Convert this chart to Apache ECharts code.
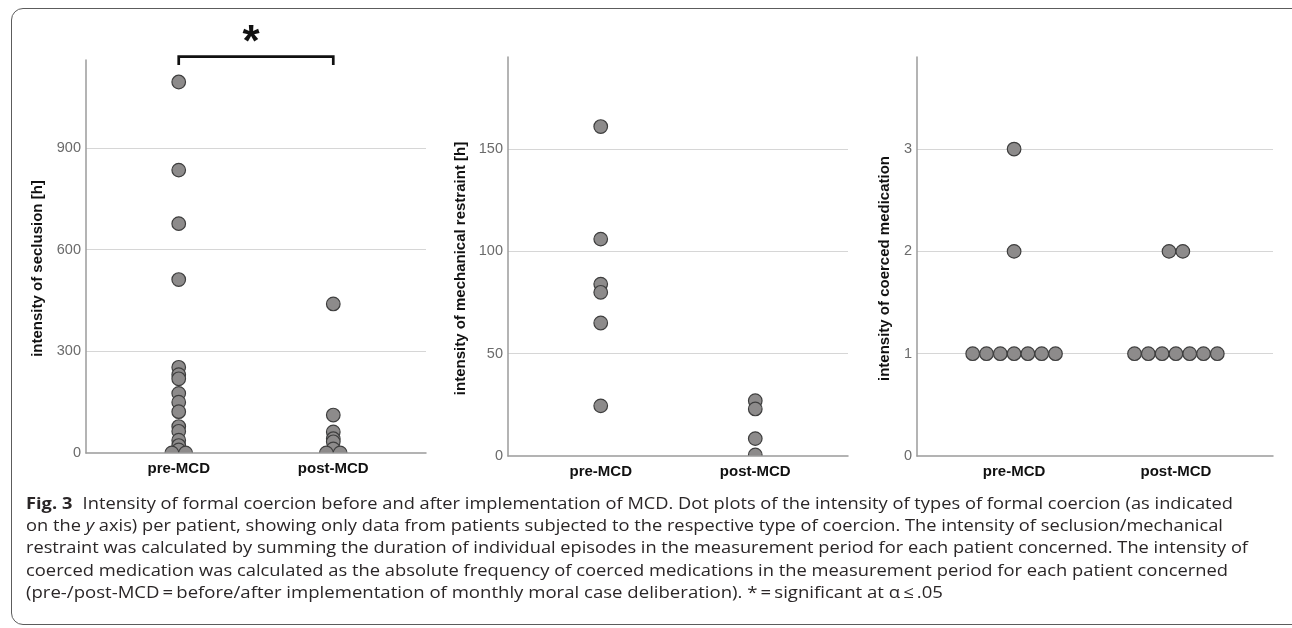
<!DOCTYPE html>
<html>
<head>
<meta charset="utf-8">
<script src="https://cdn.jsdelivr.net/npm/echarts/dist/echarts.min.js"></script>
<style>
html,body{margin:0;padding:0;background:#fff;}
#chart{position:absolute;left:0;top:0;width:1292px;height:628px;}
#frame{position:absolute;left:11px;top:8px;width:1330px;height:617px;border:1.3px solid #5c5c5c;border-radius:12px;pointer-events:none;box-sizing:border-box;}
#caption{position:absolute;left:26px;top:491.5px;font-family:"Open Sans",sans-serif;font-size:16.6px;line-height:22.4px;color:#2a2627;}
#caption div{white-space:nowrap;transform-origin:0 0;width:max-content;}
#caption b{font-weight:700;margin-right:5px;}
</style>
</head>
<body>
<div id="chart"></div>
<div id="frame"></div>
<div id="caption"></div>
<script>
// ---- data ----
const categories = ['pre-MCD', 'post-MCD'];
const seclusionPre  = [1095, 835, 677, 512, 253, 231, 219, 176, 150, 122, 78, 64, 38, 22, 9, 0, 0];
const seclusionPost = [440, 112, 62, 42, 33, 12, 0, 0];
const restraintPre  = [161, 106, 84, 80, 65, 24.5];
const restraintPost = [27, 23, 8.5, 0.5];
const medicationPre  = [3, 2, 1, 1, 1, 1, 1, 1, 1];
const medicationPost = [2, 2, 1, 1, 1, 1, 1, 1, 1];
const yNames = ['intensity of seclusion [h]', 'intensity of mechanical restraint [h]', 'intensity of coerced medication'];
const yMax = [1160, 195, 3.9];
const yStep = [300, 50, 1];
const significanceMark = '*';

const captionLines = [
  '<b>Fig. 3</b> Intensity of formal coercion before and after implementation of MCD. Dot plots of the intensity of types of formal coercion (as indicated',
  'on the <i>y</i> axis) per patient, showing only data from patients subjected to the respective type of coercion. The intensity of seclusion/mechanical',
  'restraint was calculated by summing the duration of individual episodes in the measurement period for each patient concerned. The intensity of',
  'coerced medication was calculated as the absolute frequency of coerced medications in the measurement period for each patient concerned',
  '(pre-/post-MCD\u2009=\u2009before/after implementation of monthly moral case deliberation). *\u2009=\u2009significant at \u03b1\u2009\u2264\u2009.05'
];

// ---- layout ----
const grids = [
  {left: 86, top: 60, width: 340, height: 393},
  {left: 508, top: 57, width: 340, height: 399},
  {left: 917, top: 57, width: 356, height: 399}
];
const nameGaps = [41, 40, 25];
const captionRight = [1233, 1223, 1248, 1228, 943];
const swarmStep = 13.8;
const dotRadius = 6.8;

const groups = [
  [seclusionPre, seclusionPost],
  [restraintPre, restraintPost],
  [medicationPre, medicationPost]
];

// beeswarm: equal values are spread side by side (offset in px)
function swarm(values, x) {
  const counts = {};
  values.forEach(v => { counts[v] = (counts[v] || 0) + 1; });
  const seen = {};
  return values.map(v => {
    seen[v] = seen[v] === undefined ? 0 : seen[v] + 1;
    const off = (seen[v] - (counts[v] - 1) / 2) * swarmStep;
    return [x, v, off];
  });
}

const FONT = '"Liberation Sans", Arial, sans-serif';

const xAxes = grids.map((g, i) => ({
  type: 'value', gridIndex: i, min: 0.4, max: 2.6, interval: 0.2, z: 5,
  axisLine: {show: true, lineStyle: {color: '#9b9b9b', width: 1.5}},
  axisTick: {show: false},
  splitLine: {show: false},
  axisLabel: {
    margin: 8, color: '#111', fontWeight: 'bold', fontSize: 15, fontFamily: FONT,
    showMinLabel: false, showMaxLabel: false,
    formatter: v => {
      const k = Math.round(v * 10);
      if (k === 10) return categories[0];
      if (k === 20) return categories[1];
      return '';
    }
  }
}));

const yAxes = grids.map((g, i) => ({
  type: 'value', gridIndex: i, min: 0, max: yMax[i], interval: yStep[i],
  name: yNames[i], nameLocation: 'middle', nameGap: nameGaps[i], nameRotate: 90,
  nameTextStyle: {color: '#111', fontWeight: 'bold', fontSize: 15, fontFamily: FONT, padding: [0, 24, 0, 0]},
  axisLine: {show: true, lineStyle: {color: '#9b9b9b', width: 1.5}},
  axisTick: {show: false},
  axisLabel: {color: '#6b6b6b', fontSize: 14.5, fontFamily: FONT, margin: 5, showMaxLabel: false},
  splitLine: {show: true, showMinLine: false, showMaxLine: false, lineStyle: {color: '#d6d6d6', width: 1.2}}
}));

function renderDot(params, api) {
  const p = api.coord([api.value(0), api.value(1)]);
  return {
    type: 'circle',
    shape: {cx: p[0] + api.value(2), cy: p[1], r: dotRadius},
    style: {fill: '#8d8b8b', stroke: '#3e3e3e', lineWidth: 1.2}
  };
}

const series = [];
groups.forEach((pair, i) => {
  pair.forEach((vals, g) => {
    series.push({
      type: 'custom', xAxisIndex: i, yAxisIndex: i, clip: true,
      renderItem: renderDot,
      encode: {x: 0, y: 1},
      data: swarm(vals, g + 1),
      silent: true, z: 2
    });
  });
});

const chart = echarts.init(document.getElementById('chart'), null, {renderer: 'canvas'});
chart.setOption({
  animation: false,
  backgroundColor: '#fff',
  grid: grids,
  xAxis: xAxes,
  yAxis: yAxes,
  series: series
});

// significance bracket placed through the axis scales
const pA = chart.convertToPixel({gridIndex: 0}, [1, yMax[0]]);
const pB = chart.convertToPixel({gridIndex: 0}, [2, yMax[0]]);
const by = pA[1] - 3.3;
chart.setOption({
  graphic: [
    {type: 'polyline', silent: true, z: 10,
     shape: {points: [[pA[0], pA[1] + 5], [pA[0], by], [pB[0], by], [pB[0], pA[1] + 5]]},
     style: {stroke: '#111', lineWidth: 2.7, fill: null, lineJoin: 'miter'}},
    {type: 'text', silent: true, z: 10,
     x: (pA[0] + pB[0]) / 2 - 5, y: by - 13,
     style: {text: significanceMark, font: 'bold 44px ' + FONT, fill: '#111', align: 'center', verticalAlign: 'middle'}}
  ]
});

// caption
const cap = document.getElementById('caption');
captionLines.forEach(h => { const d = document.createElement('div'); d.innerHTML = h; cap.appendChild(d); });
function fitCaption() {
  const left = 26;
  Array.from(cap.children).forEach((d, i) => {
    d.style.transform = 'none';
    const w = d.getBoundingClientRect().width;
    const target = captionRight[i] - left;
    d.style.transform = 'scaleX(' + (target / w) + ')';
  });
}
fitCaption();
if (document.fonts && document.fonts.ready) document.fonts.ready.then(fitCaption);
</script>
</body>
</html>
